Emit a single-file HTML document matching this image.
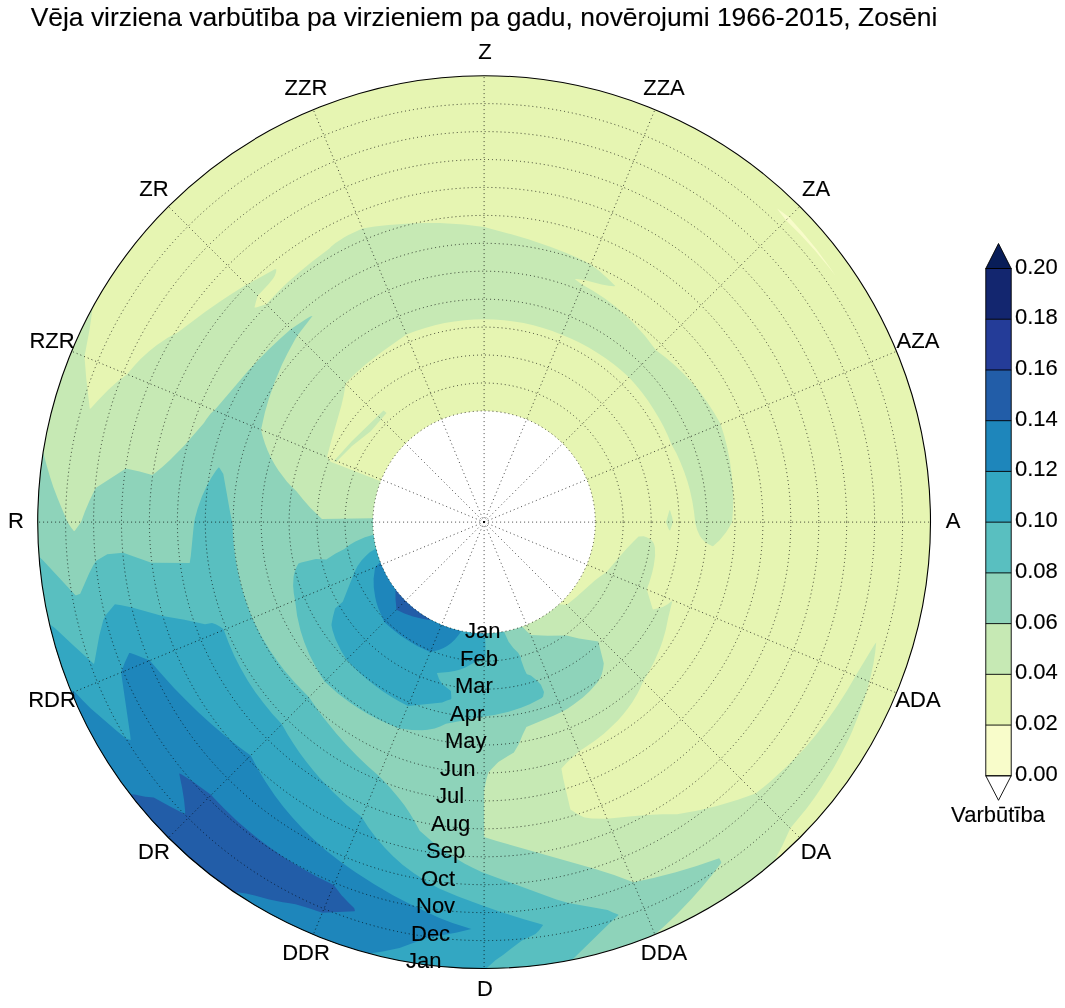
<!DOCTYPE html><html><head><meta charset="utf-8"><title>Chart</title><style>
html,body{margin:0;padding:0;background:#fff}body{width:1065px;height:1008px;position:relative;overflow:hidden;font-family:"Liberation Sans",sans-serif;color:#000}
.t{position:absolute;white-space:nowrap;line-height:1;font-size:22px;will-change:transform}
.t{-webkit-text-stroke:0.12px #000}.c{transform:translate(-50%,-50%) scale(1,1.02)}.r{transform:translate(-100%,-50%) scale(1,1.02)}.l{transform:translate(0,-50%) scale(1,1.02)}
</style></head><body>
<svg width="1065" height="1008" viewBox="0 0 1065 1008" style="position:absolute;left:0;top:0">
<rect width="1065" height="1008" fill="#fff"/>
<circle cx="484.1" cy="522.1" r="446.4" fill="#f8fcca"/>
<g fill-rule="evenodd" stroke="none">
<path fill="#e6f5b2" d="M484.1,409.9L484.1,75.7L506.0,76.2L527.9,77.8L549.6,80.5L571.2,84.3L592.6,89.1L613.7,94.9L634.5,101.8L654.9,109.7L675.0,118.6L694.5,128.4L713.6,139.2L732.1,150.9L750.0,163.5L767.3,177.0L783.9,191.3L799.8,206.4L814.9,222.3L829.2,238.9L842.7,256.2L855.3,274.1L867.0,292.6L877.8,311.7L887.6,331.2L896.5,351.3L904.4,371.7L911.3,392.5L917.1,413.6L921.9,435.0L925.7,456.6L928.4,478.3L930.0,500.2L930.5,522.1L930.0,544.0L928.4,565.9L925.7,587.6L921.9,609.2L917.1,630.6L911.3,651.7L904.4,672.5L896.5,692.9L887.6,713.0L877.8,732.5L867.0,751.6L855.3,770.1L842.7,788.0L829.2,805.3L814.9,821.9L799.8,837.8L783.9,852.9L767.3,867.2L750.0,880.7L732.1,893.3L713.6,905.0L694.5,915.8L675.0,925.6L654.9,934.5L634.5,942.4L613.7,949.3L592.6,955.1L571.2,959.9L549.6,963.7L527.9,966.4L506.0,968.0L484.1,968.5L462.2,968.0L440.3,966.4L418.6,963.7L397.0,959.9L375.6,955.1L354.5,949.3L333.7,942.4L313.3,934.5L293.2,925.6L273.7,915.8L254.6,905.0L236.1,893.3L218.2,880.7L200.9,867.2L184.3,852.9L168.4,837.8L153.3,821.9L139.0,805.3L125.5,788.0L112.9,770.1L101.2,751.6L90.4,732.5L80.6,713.0L71.7,692.9L63.8,672.5L56.9,651.7L51.1,630.6L46.3,609.2L42.5,587.6L39.8,565.9L38.2,544.0L37.7,522.1L38.2,500.2L39.8,478.3L42.5,456.6L46.3,435.0L51.1,413.6L56.9,392.5L63.8,371.7L71.7,351.3L80.6,331.2L90.4,311.7L101.2,292.6L112.9,274.1L125.5,256.2L139.0,238.9L153.3,222.3L168.4,206.4L184.3,191.3L200.9,177.0L218.2,163.5L236.1,150.9L254.6,139.2L273.7,128.4L293.2,118.6L313.3,109.7L333.7,101.8L354.5,94.9L375.6,89.1L397.0,84.3L418.6,80.5L440.3,77.8L462.2,76.2L484.1,75.7L484.1,410.9L473.2,411.4L462.4,413.0L457.1,414.2L446.6,417.4L441.5,419.4L431.7,424.0L422.3,429.6L417.9,432.8L409.4,439.7L401.7,447.4L394.8,455.9L391.6,460.3L386.0,469.7L381.4,479.5L379.4,484.6L376.2,495.1L374.1,505.8L373.4,511.2L372.9,522.1L373.4,533.0L375.0,543.8L377.7,554.4L379.4,559.6L383.6,569.6L386.0,574.5L391.6,583.9L394.8,588.3L401.7,596.8L405.5,600.7L409.4,604.5L417.9,611.4L422.3,614.6L431.7,620.2L441.5,624.8L446.6,626.8L457.1,630.0L462.4,631.2L473.2,632.8L484.1,633.3L495.0,632.8L500.4,632.1L511.1,630.0L516.4,628.5L526.7,624.8L531.6,622.6L536.5,620.2L545.9,614.6L554.6,608.1L562.7,600.7L566.5,596.8L573.4,588.3L576.6,583.9L582.2,574.5L584.6,569.6L588.8,559.6L592.0,549.1L593.2,543.8L594.8,533.0L595.2,527.6L595.3,522.1L594.8,511.2L594.1,505.8L592.0,495.1L588.8,484.6L586.8,479.5L582.2,469.7L576.6,460.3L573.4,455.9L566.5,447.4L558.8,439.7L554.6,436.1L545.9,429.6L541.3,426.7L536.5,424.0L526.7,419.4L516.4,415.7L511.1,414.2L500.4,412.1L495.0,411.4L484.1,410.9ZM786.0,220.2L800.8,235.0L815.0,250.6L828.5,266.7L835.5,275.7L829.0,266.3L816.5,249.3L803.1,233.0L789.0,217.2L782.8,212.5L777.1,208.5L779.5,212.1Z"/>
<path fill="#c6e9b4" d="M484.1,318.9L484.1,227.1L510.5,234.1L528.3,239.3L550.2,246.7L565.8,252.8L578.5,258.3L590.8,264.4L599.4,271.1L607.7,278.5L615.3,285.9L613.9,286.3L608.6,285.7L601.7,284.4L584.4,280.0L576.5,278.9L574.9,279.3L582.4,284.7L593.4,290.9L604.5,298.2L616.6,307.5L623.5,313.5L632.2,321.7L644.9,335.7L656.0,350.2L665.7,357.5L675.0,365.4L683.9,373.9L692.3,383.0L700.2,392.6L707.6,402.7L714.4,413.2L720.6,424.1L724.3,436.1L727.4,448.3L729.8,460.5L731.8,474.9L732.8,487.0L733.2,498.5L733.0,509.9L732.1,522.1L729.2,527.3L726.1,532.2L719.6,540.2L713.0,546.3L712.0,546.1L708.2,544.1L704.5,541.4L701.7,538.5L699.9,535.9L697.2,529.9L695.3,523.0L694.0,511.8L692.4,501.6L689.8,489.7L687.5,481.6L684.3,472.0L680.1,461.5L676.4,453.3L671.5,444.5L667.7,435.3L663.4,426.3L658.6,417.5L653.4,409.0L647.9,400.6L641.6,392.1L635.6,384.8L628.9,377.3L621.4,370.6L614.1,364.6L605.6,358.3L597.2,352.8L588.7,347.6L579.9,342.8L570.9,338.5L561.7,334.7L552.4,331.1L543.0,328.0L533.4,325.3L523.7,323.1L513.9,321.4L504.0,320.2L494.1,319.4L484.1,319.2ZM669.0,511.8L669.9,509.8L672.2,517.5L673.0,522.1L670.1,530.4L669.1,530.0L668.2,528.3L666.1,522.1ZM638.6,536.6L643.7,536.3L646.6,537.3L649.5,538.7L651.3,540.1L653.1,542.2L653.9,543.8L654.9,547.4L655.1,556.1L653.7,565.9L652.1,573.1L649.7,581.3L646.8,589.5L652.5,608.4L653.0,609.5L659.4,608.1L663.2,606.8L667.8,604.3L671.1,601.6L672.3,601.3L668.4,616.9L665.7,629.9L662.8,640.2L660.3,647.4L654.2,661.7L649.0,671.6L643.0,681.7L639.8,688.9L637.2,694.0L632.3,702.2L628.2,708.0L623.5,714.0L617.9,720.4L608.5,729.6L603.6,733.9L594.5,741.0L583.8,748.3L579.0,751.2L567.2,762.3L561.4,768.5L563.2,778.4L570.4,809.6L577.1,813.8L583.3,817.1L584.8,817.6L591.6,818.4L607.0,818.7L629.5,816.4L647.2,815.0L662.2,814.3L677.1,814.3L698.0,810.5L717.0,805.9L737.9,799.8L755.6,793.6L770.4,781.6L787.3,766.1L798.2,755.1L804.8,747.9L816.0,734.8L826.8,720.8L837.2,706.1L847.1,690.6L855.5,675.9L872.4,647.9L874.6,644.4L876.2,642.6L875.2,652.2L873.5,663.2L870.8,676.0L867.0,690.4L863.5,701.5L859.2,713.6L852.5,730.4L848.6,739.2L839.4,757.5L834.0,767.2L821.6,787.2L814.5,797.7L806.6,808.4L790.3,828.3L782.2,846.0L774.0,861.5L767.3,867.2L750.0,880.7L732.1,893.3L713.6,905.0L694.5,915.8L675.0,925.6L654.9,934.5L634.5,942.4L613.7,949.3L592.6,955.1L571.2,959.9L549.6,963.7L527.9,966.4L506.0,968.0L484.1,968.5L462.2,968.0L440.3,966.4L418.6,963.7L397.0,959.9L375.6,955.1L354.5,949.3L333.7,942.4L313.3,934.5L293.2,925.6L273.7,915.8L254.6,905.0L236.1,893.3L218.2,880.7L200.9,867.2L184.3,852.9L168.4,837.8L153.3,821.9L139.0,805.3L125.5,788.0L112.9,770.1L101.2,751.6L90.4,732.5L80.6,713.0L71.7,692.9L63.8,672.5L56.9,651.7L51.1,630.6L46.3,609.2L42.5,587.6L39.8,565.9L38.2,544.0L37.7,522.1L38.2,500.2L39.8,478.3L42.5,456.6L46.3,435.0L51.1,413.6L56.9,392.5L63.8,371.7L71.7,351.3L80.6,331.2L92.7,307.4L89.7,328.8L84.5,356.6L86.2,378.0L89.8,409.0L91.1,408.0L99.1,399.2L108.6,389.5L118.1,381.1L127.1,374.2L134.3,365.7L140.6,359.0L148.8,351.5L156.6,345.2L167.7,337.8L178.0,332.2L205.3,311.8L219.7,301.8L232.2,293.5L245.8,284.9L246.7,284.7L275.2,269.0L276.3,269.4L276.1,272.1L274.7,275.9L273.0,278.7L268.5,284.2L257.7,295.7L255.9,301.8L254.5,307.6L256.0,307.4L266.2,304.2L280.1,289.8L287.5,282.6L298.9,272.4L311.9,261.7L329.4,248.6L331.5,246.3L335.5,243.0L344.0,237.5L348.4,235.1L362.4,228.4L374.7,226.5L388.5,224.9L413.2,223.2L424.6,222.9L439.7,223.1L463.9,224.6L484.1,227.1L484.1,319.2L474.1,319.4L464.2,320.2L454.3,321.4L444.5,323.1L434.8,325.3L425.2,327.9L415.7,331.0L406.4,334.6L382.0,351.7L365.5,364.5L352.2,376.6L345.6,383.6L343.8,394.9L341.4,405.6L331.4,440.5L327.3,455.8L327.1,457.1L330.5,461.4L331.3,461.9L380.7,481.3L377.7,489.8L376.2,495.1L374.1,505.8L373.0,516.6L373.0,527.6L374.1,538.4L376.2,549.1L379.4,559.6L383.6,569.6L386.0,574.5L391.6,583.9L394.8,588.3L401.7,596.8L405.5,600.7L409.4,604.5L417.9,611.4L422.3,614.6L431.7,620.2L441.5,624.8L446.6,626.8L457.1,630.0L467.8,632.1L473.2,632.8L484.1,633.3L495.0,632.8L500.4,632.1L511.1,630.0L516.4,628.5L526.7,624.8L531.6,622.6L536.5,620.2L545.9,614.6L554.6,608.1L559.0,604.3L560.1,604.6L566.8,604.8L575.8,597.4L594.8,580.6L599.7,576.8L606.5,572.1L625.6,549.8L633.0,541.9Z"/>
<path fill="#8ed3ba" d="M591.9,640.6L598.3,641.5L603.8,663.4L603.0,669.3L601.8,674.1L600.4,677.6L597.6,682.2L589.9,690.9L582.9,697.4L573.6,704.6L567.8,708.4L562.5,711.4L553.4,715.7L526.4,727.0L522.5,734.9L518.6,744.6L513.9,752.4L498.4,761.9L488.5,772.3L486.4,779.3L484.1,790.3L484.1,836.3L484.7,837.3L496.7,841.0L595.2,868.9L614.1,875.1L633.3,882.3L653.4,878.1L675.8,872.3L696.6,865.9L719.2,858.2L721.2,861.7L721.2,862.9L711.6,875.4L702.5,886.4L691.2,899.2L676.4,914.7L665.1,925.6L654.9,934.5L634.5,942.4L613.7,949.3L592.6,955.1L571.2,959.9L549.6,963.7L527.9,966.4L506.0,968.0L484.1,968.5L462.2,968.0L440.3,966.4L418.6,963.7L397.0,959.9L375.6,955.1L354.5,949.3L333.7,942.4L313.3,934.5L293.2,925.6L273.7,915.8L254.6,905.0L236.1,893.3L218.2,880.7L200.9,867.2L184.3,852.9L168.4,837.8L153.3,821.9L139.0,805.3L125.5,788.0L112.9,770.1L101.2,751.6L90.4,732.5L80.6,713.0L71.7,692.9L63.8,672.5L56.9,651.7L51.1,630.6L46.3,609.2L42.5,587.6L39.8,565.9L38.2,544.0L37.7,522.1L38.2,500.2L39.8,478.3L43.2,452.3L46.6,465.3L50.2,477.5L53.3,487.0L57.6,498.3L67.5,522.1L70.9,527.3L74.0,531.3L75.0,530.4L81.1,522.1L85.0,511.3L89.5,500.8L95.3,488.6L96.4,487.6L125.9,468.5L139.6,471.5L152.2,475.1L154.8,473.3L162.6,466.8L170.0,460.1L184.6,445.3L203.9,423.0L206.5,418.9L210.7,413.4L214.3,410.3L216.0,408.4L248.2,370.8L257.3,361.1L268.1,350.0L280.9,337.9L291.0,329.0L305.7,319.2L310.3,316.6L312.5,316.0L298.4,334.2L295.7,338.3L287.7,353.0L282.0,364.6L275.1,381.0L269.0,398.3L265.0,412.0L261.0,429.7L262.8,436.8L265.0,443.7L267.5,450.2L270.8,457.4L274.7,464.5L278.3,470.3L287.0,481.7L291.2,486.3L296.4,491.3L303.3,499.8L310.5,507.9L321.9,519.0L373.0,518.3L373.0,527.6L373.4,533.0L375.0,543.8L376.2,549.1L379.4,559.6L381.4,564.7L383.6,569.6L388.7,579.3L391.6,583.9L398.1,592.6L401.7,596.8L409.4,604.5L417.9,611.4L422.3,614.6L431.7,620.2L441.5,624.8L446.6,626.8L457.1,630.0L467.8,632.1L473.2,632.8L484.1,633.3L495.0,632.8L500.4,632.1L511.1,630.0L522.2,626.6L526.7,631.3L530.1,634.2L531.2,634.9L547.5,635.8L566.6,635.4L578.9,638.6Z"/>
<path fill="#59bfc0" d="M530.8,675.4L536.4,679.9L540.9,684.7L544.0,692.1L543.1,696.6L541.8,698.1L529.7,704.2L521.0,707.7L508.7,711.7L494.4,715.0L484.1,716.5L445.9,723.7L440.1,726.6L434.6,728.4L427.7,729.8L422.2,730.3L411.7,730.1L398.7,728.2L388.5,724.1L378.5,719.6L368.8,714.5L359.3,708.8L350.2,702.7L337.3,692.9L324.7,681.5L320.8,675.8L315.7,667.0L309.2,654.3L304.2,642.1L300.5,630.4L297.1,615.8L295.1,600.4L293.8,593.3L293.1,585.4L293.6,576.8L294.5,572.5L296.3,567.4L298.5,563.5L301.3,562.5L315.9,558.9L326.3,559.5L335.2,553.8L344.4,548.9L349.8,544.8L355.4,541.5L364.9,537.3L373.6,534.8L375.0,543.8L377.7,554.4L381.4,564.7L386.0,574.5L391.6,583.9L398.1,592.6L401.7,596.8L409.4,604.5L417.9,611.4L422.3,614.6L431.7,620.2L441.5,624.8L451.8,628.5L462.4,631.2L467.8,632.1L478.6,633.2L489.6,633.2L495.0,632.8L503.9,631.5L508.6,641.8L513.3,648.0L518.3,652.9L520.9,657.4L520.9,659.5L521.9,662.3L524.3,668.9L526.4,673.5L527.1,674.3ZM603.4,909.3L607.6,910.1L612.9,912.6L617.6,914.2L618.6,914.9L609.8,923.1L572.2,959.7L549.6,963.7L527.9,966.4L506.0,968.0L484.1,968.5L462.2,968.0L440.3,966.4L418.6,963.7L397.0,959.9L375.6,955.1L354.5,949.3L333.7,942.4L313.3,934.5L293.2,925.6L273.7,915.8L254.6,905.0L236.1,893.3L218.2,880.7L200.9,867.2L184.3,852.9L168.4,837.8L153.3,821.9L139.0,805.3L125.5,788.0L112.9,770.1L101.2,751.6L90.4,732.5L80.6,713.0L71.7,692.9L63.8,672.5L56.9,651.7L51.1,630.6L46.3,609.2L42.5,587.6L39.8,565.9L39.0,556.4L43.6,560.9L75.4,595.2L76.4,595.2L80.2,593.8L89.2,573.2L93.3,565.2L95.9,561.1L107.3,554.3L123.2,552.7L151.4,562.8L189.7,563.1L190.8,555.9L193.9,524.0L194.9,518.5L197.8,508.0L202.1,495.9L207.5,484.4L211.6,477.2L215.7,471.0L218.5,467.4L219.4,467.8L223.3,474.1L229.6,509.6L231.9,521.2L232.4,522.1L232.9,534.4L233.9,546.7L235.5,559.0L237.7,570.8L240.5,583.1L243.9,595.0L247.8,606.7L252.2,618.1L257.6,629.2L262.5,638.2L269.9,650.5L276.9,660.6L284.2,670.3L295.4,683.3L309.0,697.2L316.1,707.5L323.5,717.8L336.7,734.1L347.0,745.6L357.1,756.1L368.4,766.8L378.9,776.1L382.8,780.1L390.5,788.3L398.1,797.2L404.4,805.3L409.6,812.9L414.0,820.2L419.7,830.7L434.3,843.5L442.4,849.7L449.4,854.5L464.8,863.8L473.2,868.1L482.2,872.3L556.4,899.4L568.5,903.1Z"/>
<path fill="#33a7c2" d="M523.9,919.3L541.3,924.3L543.1,925.0L539.0,930.6L535.4,934.1L521.9,940.6L503.0,954.9L495.4,960.2L486.3,968.5L462.2,968.0L440.3,966.4L418.6,963.7L397.0,959.9L375.6,955.1L354.5,949.3L333.7,942.4L313.3,934.5L293.2,925.6L273.7,915.8L254.6,905.0L236.1,893.3L218.2,880.7L200.9,867.2L184.3,852.9L168.4,837.8L153.3,821.9L139.0,805.3L125.5,788.0L112.9,770.1L101.2,751.6L90.4,732.5L80.6,713.0L71.7,692.9L63.8,672.5L56.9,651.7L49.6,624.3L54.8,628.0L74.3,646.3L93.9,664.0L94.4,662.6L99.3,635.7L103.3,620.0L106.1,614.7L114.9,604.3L121.3,605.3L132.1,607.6L162.4,616.1L184.4,619.8L205.0,624.3L212.0,623.0L215.7,624.3L219.8,626.5L222.9,628.8L223.8,629.9L228.7,642.9L234.2,655.7L240.5,668.1L247.5,680.2L255.2,691.9L263.5,703.1L272.4,714.0L281.9,724.3L287.5,734.2L293.2,743.3L299.2,752.3L305.7,761.0L312.5,769.6L319.7,778.1L332.5,791.6L346.2,804.4L361.8,817.3L368.0,826.9L375.5,837.1L384.3,847.3L392.8,856.0L402.5,864.7L413.9,873.3L426.9,881.8L439.1,888.6L458.1,896.4L479.0,904.3L500.7,911.9ZM485.1,634.3L485.7,656.3L485.5,657.3L484.1,658.3L472.1,663.8L465.9,667.2L460.3,669.4L454.5,671.0L448.5,672.1L436.9,673.1L439.0,678.9L442.1,683.9L450.9,691.1L451.4,698.3L450.9,699.2L446.9,700.5L442.1,702.5L408.0,705.9L399.3,701.4L390.9,696.5L382.7,691.2L374.9,685.6L367.3,679.6L360.1,673.2L353.1,666.6L346.5,659.7L340.8,650.2L335.5,639.2L332.6,630.4L331.5,625.3L331.6,623.7L333.0,616.5L335.1,608.4L342.8,601.7L354.3,572.5L357.4,566.3L361.7,560.2L366.5,555.2L369.8,552.3L376.1,548.6L377.7,554.4L381.4,564.7L383.6,569.6L388.7,579.3L394.8,588.3L401.7,596.8L409.4,604.5L413.6,608.1L422.3,614.6L431.7,620.2L441.5,624.8L446.6,626.8L457.1,630.0L462.4,631.2L473.2,632.8L485.0,633.3Z"/>
<path fill="#1e86bb" d="M464.3,926.8L471.3,929.1L456.9,932.4L425.9,938.2L399.5,948.0L382.7,951.5L369.5,953.5L354.5,949.3L333.7,942.4L313.3,934.5L293.2,925.6L273.7,915.8L254.6,905.0L236.1,893.3L218.2,880.7L200.9,867.2L184.3,852.9L168.4,837.8L153.3,821.9L139.0,805.3L125.5,788.0L112.9,770.1L101.2,751.6L90.4,732.5L80.6,713.0L70.4,689.7L74.7,691.7L82.8,700.6L90.5,708.3L115.4,729.8L126.3,738.7L130.7,740.0L130.1,734.3L121.1,672.5L124.6,663.1L129.2,652.9L130.3,653.0L135.3,654.8L149.7,660.6L160.3,672.8L174.0,687.9L186.3,700.6L198.8,712.7L211.5,724.3L224.4,735.3L237.4,745.7L250.7,755.5L258.4,770.0L265.2,781.2L274.6,795.2L283.1,806.4L292.4,817.5L302.5,828.5L313.5,839.3L325.4,849.9L341.7,862.7L355.9,872.6L374.2,884.3L392.9,895.3L408.3,903.2L438.8,917.7L452.5,923.1ZM460.8,631.9L457.6,636.3L454.6,639.7L451.2,642.9L447.1,645.9L443.5,647.9L439.4,649.7L430.3,651.9L417.8,646.2L411.7,642.8L400.1,635.3L389.3,626.6L384.3,621.9L378.5,608.8L376.4,602.2L375.2,597.0L373.8,587.4L373.6,578.8L375.1,567.2L380.3,562.0L383.6,569.6L386.0,574.5L391.6,583.9L394.8,588.3L401.7,596.8L405.5,600.7L409.4,604.5L417.9,611.4L426.9,617.5L436.6,622.6L446.6,626.8L451.8,628.5L461.2,630.9Z"/>
<path fill="#225da8" d="M348.9,903.0L354.1,908.0L354.9,910.4L354.6,911.3L322.3,912.8L307.4,907.8L295.5,904.3L288.2,902.9L282.8,902.3L269.3,899.4L254.7,895.5L246.0,893.5L233.8,891.8L218.2,880.7L200.9,867.2L184.3,852.9L168.4,837.8L153.3,821.9L139.0,805.3L130.2,794.2L134.5,794.6L145.3,796.8L153.7,797.6L170.1,806.6L184.6,814.0L185.1,813.1L185.1,810.2L184.1,800.3L182.1,787.7L179.2,773.5L180.9,774.0L192.7,781.6L211.3,794.9L213.9,798.1L224.3,808.8L238.1,821.9L252.6,834.3L267.7,846.0L283.4,856.9L299.7,867.1L316.5,876.4L333.7,885.1L341.3,894.9ZM429.1,619.9L421.1,618.5L412.9,616.4L404.4,613.4L396.5,609.7L395.5,598.8L395.5,591.0L395.9,589.8L401.7,596.8L409.4,604.5L417.9,611.4L422.3,614.6L430.8,619.7Z"/>
<path fill="#c6e9b4" d="M333.5,461.5L352,441L383.5,410.5L386.5,413L371,431L352,446L336.5,461.5Z"/>
</g>
<circle cx="484.1" cy="522.1" r="111.2" fill="#fff"/>
<g fill="none" stroke="#000" stroke-opacity="0.72" stroke-width="1" stroke-dasharray="1,3">
<circle cx="484.1" cy="522.1" r="111.2"/>
<circle cx="484.1" cy="522.1" r="139.1"/>
<circle cx="484.1" cy="522.1" r="167.1"/>
<circle cx="484.1" cy="522.1" r="195.0"/>
<circle cx="484.1" cy="522.1" r="222.9"/>
<circle cx="484.1" cy="522.1" r="250.9"/>
<circle cx="484.1" cy="522.1" r="278.8"/>
<circle cx="484.1" cy="522.1" r="306.7"/>
<circle cx="484.1" cy="522.1" r="334.7"/>
<circle cx="484.1" cy="522.1" r="362.6"/>
<circle cx="484.1" cy="522.1" r="390.5"/>
<circle cx="484.1" cy="522.1" r="418.5"/>
<path d="M484.1,522.1L484.1,75.7"/>
<path d="M484.1,522.1L654.9,109.7"/>
<path d="M484.1,522.1L799.8,206.4"/>
<path d="M484.1,522.1L896.5,351.3"/>
<path d="M484.1,522.1L930.5,522.1"/>
<path d="M484.1,522.1L896.5,692.9"/>
<path d="M484.1,522.1L799.8,837.8"/>
<path d="M484.1,522.1L654.9,934.5"/>
<path d="M484.1,522.1L484.1,968.5"/>
<path d="M484.1,522.1L313.3,934.5"/>
<path d="M484.1,522.1L168.4,837.8"/>
<path d="M484.1,522.1L71.7,692.9"/>
<path d="M484.1,522.1L37.7,522.1"/>
<path d="M484.1,522.1L71.7,351.3"/>
<path d="M484.1,522.1L168.4,206.4"/>
<path d="M484.1,522.1L313.3,109.7"/>
</g>
<circle cx="484.1" cy="522.1" r="446.4" fill="none" stroke="#000" stroke-width="1.1"/>
<circle cx="484.1" cy="522.1" r="1" fill="#000"/>
<rect x="985.8" y="725.07" width="25.4" height="51.03" fill="#f8fcca"/>
<rect x="985.8" y="674.34" width="25.4" height="51.03" fill="#e6f5b2"/>
<rect x="985.8" y="623.61" width="25.4" height="51.03" fill="#c6e9b4"/>
<rect x="985.8" y="572.88" width="25.4" height="51.03" fill="#8ed3ba"/>
<rect x="985.8" y="522.15" width="25.4" height="51.03" fill="#59bfc0"/>
<rect x="985.8" y="471.42" width="25.4" height="51.03" fill="#33a7c2"/>
<rect x="985.8" y="420.69" width="25.4" height="51.03" fill="#1e86bb"/>
<rect x="985.8" y="369.96" width="25.4" height="51.03" fill="#225da8"/>
<rect x="985.8" y="319.23" width="25.4" height="51.03" fill="#243c98"/>
<rect x="985.8" y="268.50" width="25.4" height="51.03" fill="#13266f"/>
<path d="M985.8,268.5L998.5,243.5L1011.2,268.5Z" fill="#081d58" stroke="#000" stroke-width="0.9" stroke-linejoin="miter"/>
<path d="M985.8,775.8L998.5,800.3L1011.2,775.8Z" fill="#fff" stroke="#000" stroke-width="0.9"/>
<rect x="985.8" y="268.5" width="25.4" height="507.3" fill="none" stroke="#000" stroke-width="0.9"/>
<path d="M985.8,725.07L1011.2,725.07" stroke="#000" stroke-width="0.9"/>
<path d="M985.8,674.34L1011.2,674.34" stroke="#000" stroke-width="0.9"/>
<path d="M985.8,623.61L1011.2,623.61" stroke="#000" stroke-width="0.9"/>
<path d="M985.8,572.88L1011.2,572.88" stroke="#000" stroke-width="0.9"/>
<path d="M985.8,522.15L1011.2,522.15" stroke="#000" stroke-width="0.9"/>
<path d="M985.8,471.42L1011.2,471.42" stroke="#000" stroke-width="0.9"/>
<path d="M985.8,420.69L1011.2,420.69" stroke="#000" stroke-width="0.9"/>
<path d="M985.8,369.96L1011.2,369.96" stroke="#000" stroke-width="0.9"/>
<path d="M985.8,319.23L1011.2,319.23" stroke="#000" stroke-width="0.9"/>
</svg>
<div class="t c" style="left:483.7px;top:16.6px;font-size:26.45px;transform:translate(-50%,-50%) scale(1,1.0)">Vēja virziena varbūtība pa virzieniem pa gadu, novērojumi 1966-2015, Zosēni</div>
<div class="t c" style="left:484.9px;top:52.0px">Z</div>
<div class="t c" style="left:664.2px;top:87.7px">ZZA</div>
<div class="t c" style="left:816.2px;top:189.2px">ZA</div>
<div class="t c" style="left:917.7px;top:341.2px">AZA</div>
<div class="t c" style="left:953.4px;top:520.5px">A</div>
<div class="t c" style="left:917.7px;top:699.8px">ADA</div>
<div class="t c" style="left:816.2px;top:851.8px">DA</div>
<div class="t c" style="left:664.2px;top:953.3px">DDA</div>
<div class="t c" style="left:484.9px;top:989.0px">D</div>
<div class="t c" style="left:305.6px;top:953.3px">DDR</div>
<div class="t c" style="left:153.6px;top:851.8px">DR</div>
<div class="t c" style="left:52.1px;top:699.8px">RDR</div>
<div class="t c" style="left:16.4px;top:520.5px">R</div>
<div class="t c" style="left:52.1px;top:341.2px">RZR</div>
<div class="t c" style="left:153.6px;top:189.2px">ZR</div>
<div class="t c" style="left:305.6px;top:87.7px">ZZR</div>
<div class="t l" style="left:464.6px;top:631.1px">Jan</div>
<div class="t l" style="left:459.7px;top:658.6px">Feb</div>
<div class="t l" style="left:454.9px;top:686.1px">Mar</div>
<div class="t l" style="left:450.0px;top:713.6px">Apr</div>
<div class="t l" style="left:445.2px;top:741.1px">May</div>
<div class="t l" style="left:440.3px;top:768.7px">Jun</div>
<div class="t l" style="left:435.5px;top:796.2px">Jul</div>
<div class="t l" style="left:430.6px;top:823.7px">Aug</div>
<div class="t l" style="left:425.8px;top:851.2px">Sep</div>
<div class="t l" style="left:420.9px;top:878.7px">Oct</div>
<div class="t l" style="left:416.1px;top:906.2px">Nov</div>
<div class="t l" style="left:411.2px;top:933.7px">Dec</div>
<div class="t l" style="left:406.4px;top:961.2px">Jan</div>
<div class="t l" style="left:1015.2px;top:773.8px">0.00</div>
<div class="t l" style="left:1015.2px;top:723.1px">0.02</div>
<div class="t l" style="left:1015.2px;top:672.3px">0.04</div>
<div class="t l" style="left:1015.2px;top:621.6px">0.06</div>
<div class="t l" style="left:1015.2px;top:570.9px">0.08</div>
<div class="t l" style="left:1015.2px;top:520.1px">0.10</div>
<div class="t l" style="left:1015.2px;top:469.4px">0.12</div>
<div class="t l" style="left:1015.2px;top:418.7px">0.14</div>
<div class="t l" style="left:1015.2px;top:368.0px">0.16</div>
<div class="t l" style="left:1015.2px;top:317.2px">0.18</div>
<div class="t l" style="left:1015.2px;top:266.5px">0.20</div>
<div class="t c" style="left:998px;top:815px">Varbūtība</div>
</body></html>
